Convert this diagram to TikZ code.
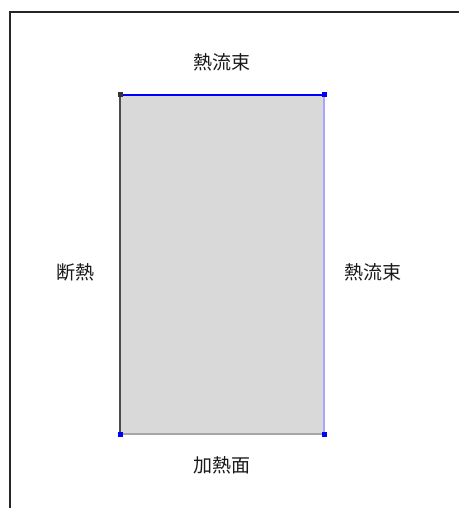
\documentclass[tikz,border=0pt]{standalone}
\usepackage{fontspec}
\newfontfamily\cjk{Noto Sans CJK JP}
\usepackage{tikz}
\usetikzlibrary{arrows}

\begin{document}
\begin{tikzpicture}%
        [x=1pt,
        y=-1pt,
        frame/.style={color=black!85, line width=2pt},
        region/.style={fill=black!15},
        adiabatic/.style={color=black!70, line width=2pt},
        flux/.style={color=blue, line width=2pt},
        fluxlight/.style={color=blue!35, line width=2pt},
        heated/.style={color=black!35, line width=2.5pt},
        vertex/.style={inner sep=0pt, minimum size=5pt, rectangle},
        bclabel/.style={font=\cjk\fontsize{19}{19}\selectfont, text=black!90}]

    \useasboundingbox (0,0) rectangle (458,508);
    %% Drawing the frame
    \draw[frame] (10,509) -- (10,12) -- (459,12);
    %% Corners of the region
    \coordinate (sw) at (120,434);
    \coordinate (se) at (324,434);
    \coordinate (ne) at (324,95);
    \coordinate (nw) at (120,95);
    %%
    %% Drawing the interior
    %%
    \fill[region] (sw) -- (se) -- (ne) -- (nw) -- cycle;
    %%
    %% Drawing the boundaries
    %%
    \draw[adiabatic] (nw) -- (sw);
    \draw[heated] (sw) -- (se);
    \draw[fluxlight] (se) -- (ne);
    \draw[flux] (ne) -- (nw);
    %%
    %% Drawing the vertices
    %%
    \node[vertex, fill=black!80] (v1) at (nw) {};
    \node[vertex, fill=blue] (v2) at (ne) {};
    \node[vertex, fill=blue] (v3) at (se) {};
    \node[vertex, fill=blue] (v4) at (sw) {};
    %%
    %% Boundary conditions
    %%
    \node[bclabel] (top) at (222,62) {熱流束};
    \node[bclabel] (left) at (75,272) {断熱};
    \node[bclabel] (right) at (373,272) {熱流束};
    \node[bclabel] (bottom) at (222,465) {加熱面};
    %%
    %%
\end{tikzpicture}
\end{document}
